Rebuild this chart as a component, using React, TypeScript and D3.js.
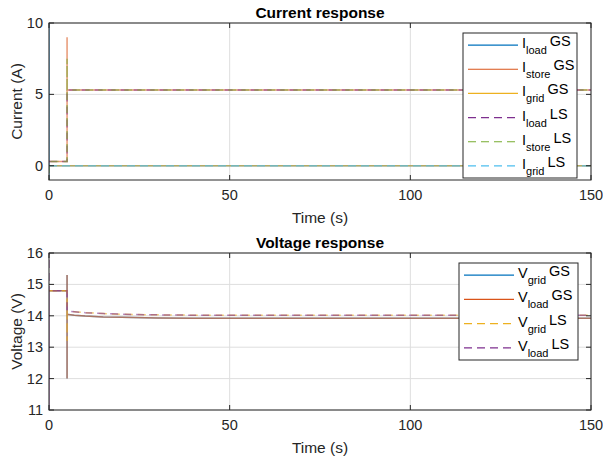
import * as d3 from 'd3';
import React from 'react';

// ---- data ----
// current panel (A)
const tLoadGS = [0, 0, 0, 150];
const iLoadGS = [10, -1, 0, 0];
const tStoreGS = [0, 5, 5, 5, 150];
const iStoreGS = [0.3, 0.3, 9, 5.3, 5.3];
const tGridGS = [0, 150];
const iGridGS = [0, 0];
const tLoadLS = [0, 5, 5, 150];
const iLoadLS = [0.3, 0.3, 5.3, 5.3];
const tStoreLS = [0, 0, 5, 5, 5, 150];
const iStoreLS = [-1, 0.3, 0.3, 7.5, 5.3, 5.3];
const tGridLS = [0, 150];
const iGridLS = [0, 0];

// voltage panel (V)
const tVgs = [0, 5, 5, 5, 5, 7, 10, 15, 20, 30, 40, 60, 100, 150];
const vLoadGS = [14.8, 14.8, 15.3, 12, 14.05, 14.02, 13.99, 13.96, 13.95, 13.93, 13.92, 13.92, 13.92, 13.92];
const vGridGS = [14.8, 14.8, 15.3, 12, 14.05, 14.02, 13.99, 13.96, 13.95, 13.93, 13.92, 13.92, 13.92, 13.92];
const tVgridLS = [0, 5, 5, 5, 7, 10, 15, 20, 30, 40, 60, 100, 150];
const vGridLS = [14.8, 14.8, 13.2, 14.15, 14.13, 14.1, 14.07, 14.05, 14.03, 14.02, 14.02, 14.02, 14.02];
const tVloadLS = [0, 0, 0, 5, 5, 7, 10, 15, 20, 30, 40, 60, 100, 150];
const vLoadLS = [16, 11, 14.8, 14.8, 14.15, 14.13, 14.1, 14.07, 14.05, 14.03, 14.02, 14.02, 14.02, 14.02];

const xTicks = [0, 50, 100, 150];
const iTicks = [0, 5, 10];
const vTicks = [11, 12, 13, 14, 15, 16];

const currentLegend = [
  { base: 'I', sub: 'load', tag: 'GS', color: '#0072BD', dash: '' },
  { base: 'I', sub: 'store', tag: 'GS', color: '#D95319', dash: '' },
  { base: 'I', sub: 'grid', tag: 'GS', color: '#EDB120', dash: '' },
  { base: 'I', sub: 'load', tag: 'LS', color: '#7E2F8E', dash: '8,5' },
  { base: 'I', sub: 'store', tag: 'LS', color: '#77AC30', dash: '8,5' },
  { base: 'I', sub: 'grid', tag: 'LS', color: '#4DBEEE', dash: '8,5' },
];
const voltageLegend = [
  { base: 'V', sub: 'grid', tag: 'GS', color: '#0072BD', dash: '' },
  { base: 'V', sub: 'load', tag: 'GS', color: '#D95319', dash: '' },
  { base: 'V', sub: 'grid', tag: 'LS', color: '#EDB120', dash: '8,5' },
  { base: 'V', sub: 'load', tag: 'LS', color: '#7E2F8E', dash: '8,5' },
];

const currentSeries = [
  { t: tLoadGS, v: iLoadGS, ...currentLegend[0] },
  { t: tStoreGS, v: iStoreGS, ...currentLegend[1] },
  { t: tGridGS, v: iGridGS, ...currentLegend[2] },
  { t: tLoadLS, v: iLoadLS, ...currentLegend[3] },
  { t: tStoreLS, v: iStoreLS, ...currentLegend[4], offset: 6 },
  { t: tGridLS, v: iGridLS, ...currentLegend[5] },
];
const voltageSeries = [
  { t: tVgs, v: vGridGS, ...voltageLegend[0] },
  { t: tVgs, v: vLoadGS, ...voltageLegend[1] },
  { t: tVgridLS, v: vGridLS, ...voltageLegend[2] },
  { t: tVloadLS, v: vLoadLS, ...voltageLegend[3], offset: 6 },
];

const font = 'Liberation Sans, Arial, sans-serif';

function Panel({ top, bottom, yDomain, yTicks, title, ylabel, series, legend, legendBox }) {
  const x = d3.scaleLinear().domain([0, 150]).range([49, 591]);
  const y = d3.scaleLinear().domain(yDomain).range([bottom, top]);
  const line = d3.line<[number, number]>().x(d => x(d[0])).y(d => y(d[1]));
  const [lx, ly, lw, lh] = legendBox;
  const rowH = lh / legend.length;
  return (
    <g fontFamily={font}>
      <defs>
        <clipPath id={'clip' + top}>
          <rect x={49} y={top} width={542} height={bottom - top} />
        </clipPath>
      </defs>
      <rect x={49} y={top} width={542} height={bottom - top} fill="#fff" />
      {xTicks.map(t => (
        <line key={'gx' + t} x1={x(t)} x2={x(t)} y1={top} y2={bottom} stroke="#dedede" />
      ))}
      {yTicks.map(t => (
        <line key={'gy' + t} x1={49} x2={591} y1={y(t)} y2={y(t)} stroke="#dedede" />
      ))}
      <g clipPath={`url(#clip${top})`}>
        {series.map((s, i) => (
          <path
            key={i}
            d={line(s.t.map((t, j) => [t, s.v[j]]))}
            fill="none"
            stroke={s.color}
            strokeWidth={1.5}
            strokeOpacity={0.6}
            strokeDasharray={s.dash || undefined}
            strokeDashoffset={s.offset || 0}
          />
        ))}
      </g>
      {/* ticks */}
      {xTicks.map(t => (
        <g key={'tx' + t}>
          <line x1={x(t)} x2={x(t)} y1={bottom} y2={bottom - 5} stroke="#262626" />
          <line x1={x(t)} x2={x(t)} y1={top} y2={top + 5} stroke="#262626" />
          <text x={x(t)} y={bottom + 20} textAnchor="middle" fontSize={14.5} fill="#262626">{t}</text>
        </g>
      ))}
      {yTicks.map(t => (
        <g key={'ty' + t}>
          <line x1={49} x2={54} y1={y(t)} y2={y(t)} stroke="#262626" />
          <line x1={591} x2={586} y1={y(t)} y2={y(t)} stroke="#262626" />
          <text x={43} y={y(t) + 5} textAnchor="end" fontSize={14.5} fill="#262626">{t}</text>
        </g>
      ))}
      <rect x={49} y={top} width={542} height={bottom - top} fill="none" stroke="#262626" strokeWidth={1} />
      <text x={320} y={top - 5} textAnchor="middle" fontSize={15.5} fontWeight="bold" fill="#000">{title}</text>
      <text x={320} y={bottom + 43} textAnchor="middle" fontSize={15.5} fill="#262626">Time (s)</text>
      <text transform={`translate(22,${(top + bottom) / 2}) rotate(-90)`} textAnchor="middle" fontSize={15.5} fill="#262626">{ylabel}</text>
      {/* legend */}
      <rect x={lx} y={ly} width={lw} height={lh} fill="#fff" stroke="#262626" />
      {legend.map((e, i) => {
        const cy = ly + rowH * (i + 0.5);
        return (
          <g key={'lg' + i}>
            <line x1={lx + 5} x2={lx + 55} y1={cy} y2={cy} stroke={e.color} strokeWidth={1.2} strokeDasharray={e.dash || undefined} />
            <text x={lx + 59} y={cy + 3} fontSize={14.5} fill="#000">
              {e.base}
              <tspan dy={6} fontSize={11}>{e.sub}</tspan>
              <tspan dy={-8} dx={3}>{e.tag}</tspan>
            </text>
          </g>
        );
      })}
    </g>
  );
}

export default function App() {
  return (
    <svg width={603} height={464} style={{ position: 'absolute', left: 0, top: 0, background: '#fff' }}>
      <rect width={603} height={464} fill="#fff" />
      <Panel top={23} bottom={180} yDomain={[-1, 10]} yTicks={iTicks} title="Current response" ylabel="Current (A)"
        series={currentSeries} legend={currentLegend} legendBox={[463, 33, 114, 145]} />
      <Panel top={253} bottom={410} yDomain={[11, 16]} yTicks={vTicks} title="Voltage response" ylabel="Voltage (V)"
        series={voltageSeries} legend={voltageLegend} legendBox={[459, 263, 119, 97]} />
    </svg>
  );
}
